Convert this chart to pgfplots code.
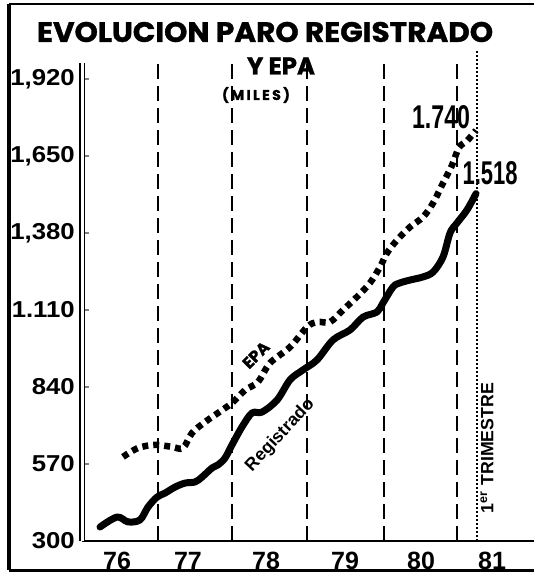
\documentclass[border=0pt]{standalone}
\usepackage{fontspec}
\setmainfont{Liberation Sans}
\newfontfamily\titlefont[BoldFeatures={FakeBold=1.2}]{Poppins}
\newfontfamily\widefont[FakeStretch=1.12]{Liberation Sans}
\usepackage{graphicx}
\usepackage{pgfplots}
\pgfplotsset{compat=1.18}
\begin{document}
\begin{tikzpicture}
\begin{axis}[
  x=74.8bp, y=0.285185bp,
  xmin=0, xmax=6.0428, ymin=300, ymax=1975,
  axis x line=bottom, axis y line=left,
  axis line style={-, line width=1.4bp},
  y axis line style={double, double distance=3bp, line width=1.2bp},
  clip=false,
  ytick={300,570,840,1110,1380,1650,1920},
  yticklabels={300,570,840,1.110,{1,380},{1,650},{1,920}},
  xtick={0.468,1.417,2.460,3.516,4.532,5.481},
  xticklabels={76,77,78,79,80,81},
  xtick style={draw=none},
  ytick style={line width=1.3bp},
  major tick length=7bp, tick align=inside,
  yticklabel style={font=\widefont\bfseries\fontsize{23bp}{23bp}\selectfont, anchor=east, inner sep=0pt, xshift=-7bp},
  xticklabel style={font=\bfseries\fontsize{25bp}{25bp}\selectfont, anchor=north, inner sep=0pt, yshift=-11bp},
]
% year separators
\addplot[black, line width=1.8bp, dash pattern=on 15bp off 7bp] coordinates {(1.016,300) (1.016,1975)};
\addplot[black, line width=1.8bp, dash pattern=on 15bp off 7bp] coordinates {(2.005,300) (2.005,1975)};
\addplot[black, line width=1.8bp, dash pattern=on 15bp off 7bp] coordinates {(3.008,300) (3.008,1975)};
\addplot[black, line width=1.8bp, dash pattern=on 15bp off 7bp] coordinates {(4.037,300) (4.037,1975)};
\addplot[black, line width=1.8bp, dash pattern=on 15bp off 7bp] coordinates {(5.013,300) (5.013,1975)};
\addplot[black, line width=1.8bp, dash pattern=on 1.8bp off 2.2bp] coordinates {(5.28,300) (5.28,2022)};
% Paro registrado
\addplot[black, line width=7bp, smooth, tension=0.55, line cap=round, line join=round] coordinates {
(0.241,349) (0.468,384) (0.615,367) (0.775,374) (0.882,419) (1.003,454) (1.110,468)
(1.243,489) (1.377,503) (1.511,507) (1.604,524) (1.738,556) (1.818,567) (1.912,591)
(2.005,637) (2.139,700) (2.273,749) (2.406,752) (2.607,794) (2.781,865) (2.955,900)
(3.142,935) (3.356,1005) (3.583,1040) (3.757,1085) (3.944,1103) (4.024,1135) (4.158,1191)
(4.251,1205) (4.385,1215) (4.559,1226) (4.693,1243) (4.826,1296) (4.920,1380) (5.013,1415)
(5.147,1461) (5.267,1518)};
% EPA
\addplot[black, line width=6.5bp, smooth, tension=0.55, dash pattern=on 6bp off 5bp] coordinates {
(0.548,595) (0.749,626) (0.976,637) (1.203,630) (1.350,626) (1.471,679) (1.644,717)
(1.818,749) (2.005,784) (2.179,829) (2.353,858) (2.513,924) (2.781,980) (3.008,1050)
(3.142,1068) (3.316,1068) (3.489,1110) (3.676,1156) (3.850,1205) (3.984,1261) (4.078,1310)
(4.211,1355) (4.385,1401) (4.559,1436) (4.693,1485) (4.826,1555) (4.947,1618) (5.040,1680)
(5.147,1703) (5.267,1740)};
% texts
\node[inner sep=0pt] at (axis cs:2.447,2084.8) {\resizebox{456bp}{20bp}{\titlefont\bfseries EVOLUCION PARO REGISTRADO}};
\node[inner sep=0pt] at (axis cs:2.660,1965.6) {\resizebox{68bp}{17bp}{\titlefont\bfseries Y EPA}};
\node[inner sep=0pt] at (axis cs:2.326,1863.9) {\resizebox{68bp}{!}{\titlefont\bfseries (\,M\,I\,L\,E\,S\,)}};
\node[inner sep=0pt] at (axis cs:4.800,1786.8) {\resizebox{58bp}{23bp}{\bfseries 1.740}};
\node[inner sep=0pt] at (axis cs:5.455,1590.4) {\resizebox{55bp}{23bp}{\bfseries 1.518}};
\node[inner sep=0pt, rotate=45] at (axis cs:2.326,952.2) {\titlefont\bfseries\fontsize{16bp}{16bp}\selectfont EPA};
\node[inner sep=0pt, rotate=47] at (axis cs:2.650,670) {\resizebox{92bp}{!}{\bfseries Registrado}};
\node[inner sep=0pt, rotate=90] at (axis cs:5.414,626.1) {\resizebox{130bp}{!}{\bfseries 1\textsuperscript{er} TRIMESTRE}};
% frame
\draw[line width=4bp] (axis cs:-0.976,2183) -- (axis cs:-0.976,198.3);
\draw[line width=3bp] (axis cs:-0.976,198.3) -- (axis cs:6.0428,198.3);
\draw[line width=1.8bp] (axis cs:-0.976,2183) -- (axis cs:6.0428,2183);
\coordinate (BL) at (axis cs:-1.0963,184.3);
\coordinate (TR) at (axis cs:6.0428,2197);
\end{axis}
\pgfresetboundingbox
\path (BL) rectangle (TR);
\end{tikzpicture}
\end{document}
